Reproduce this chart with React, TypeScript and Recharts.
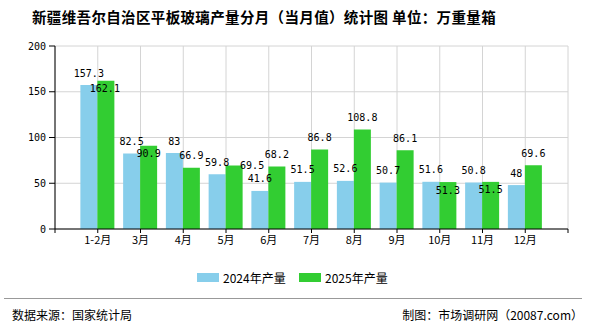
import React from 'react';
import { BarChart, Bar, XAxis, YAxis, CartesianGrid } from 'recharts';

const months = ['1-2月', '3月', '4月', '5月', '6月', '7月', '8月', '9月', '10月', '11月', '12月'];
const output2024 = [157.3, 82.5, 83, 59.8, 41.6, 51.5, 52.6, 50.7, 51.6, 50.8, 48];
const output2025 = [162.1, 90.9, 66.9, 69.5, 68.2, 86.8, 108.8, 86.1, 51.3, 51.5, 69.6];
const yTicks = [0, 50, 100, 150, 200];
const seriesNames = ['2024年产量', '2025年产量'];

// label nudges used where neighbouring value labels would collide
const labelShift2024 = months.map(() => ({ dx: 0, dy: 0 }));
const labelShift2025 = [
  { dx: -1, dy: 20 }, { dx: 0, dy: 20 }, { dx: 0, dy: 0 }, { dx: 18, dy: 12 },
  { dx: 0, dy: 0 }, { dx: 0, dy: 0 }, { dx: 0, dy: 0 }, { dx: 0, dy: 0 },
  { dx: 0, dy: 20 }, { dx: 0, dy: 20 }, { dx: 0, dy: 0 },
];

const data = months.map((m, i) => ({ pos: i + 1, month: m, a: output2024[i], b: output2025[i] }));
const xTicks = Array.from({ length: months.length + 2 }, (_, i) => i);

const MONO = "'DejaVu Sans Mono', 'Liberation Mono', monospace";
const CJK = "'Noto Sans CJK SC', 'Noto Sans', sans-serif";
const BLUE = '#87CEEB';
const GREEN = '#32CD32';

const makeLabel = (shifts: { dx: number; dy: number }[]) => (props: any) => {
  const { x, y, width, value, index } = props;
  const s = shifts[index] || { dx: 0, dy: 0 };
  const cx = Number(x) + Number(width) / 2 + s.dx;
  const cy = Number(y) - 12 + s.dy;
  return (
    <text x={cx} y={cy + 3.5} textAnchor="middle" fontFamily={MONO} fontSize={10} fill="#000">
      {value}
    </text>
  );
};

const LegendItem = ({ left, color, text }: { left: number; color: string; text: string }) => (
  <div style={{ position: 'absolute', left, top: 268, height: 18, display: 'flex', alignItems: 'center', fontFamily: CJK, fontSize: 12, color: '#000', whiteSpace: 'nowrap' }}>
    <span style={{ width: 22, height: 9, background: color, display: 'inline-block', marginRight: 4 }} />
    <span>{text}</span>
  </div>
);

export default function App() {
  return (
    <div style={{ position: 'absolute', left: 0, top: 0, width: 590, height: 330, background: '#fff', overflow: 'hidden' }}>
      <div
        style={{
          position: 'absolute', left: 32, top: 6, whiteSpace: 'nowrap', fontFamily: CJK,
          fontSize: 14.5, fontWeight: 'bold', lineHeight: '22px', color: '#000', letterSpacing: 0.35,
        }}
      >
        新疆维吾尔自治区平板玻璃产量分月（当月值）统计图 单位：万重量箱
      </div>
      <BarChart
        width={590}
        height={330}
        data={data}
        margin={{ top: 46, right: 22, bottom: 71, left: 0 }}
        barGap={0}
      >
        <CartesianGrid stroke="#d4d4d4" strokeWidth={1} />
        <XAxis
          dataKey="pos"
          type="number"
          domain={[0, months.length + 1]}
          ticks={xTicks}
          interval={0}
          allowDataOverflow
          height={30}
          tickSize={4}
          tickMargin={3}
          tickFormatter={(v: number) => months[v - 1] ?? ''}
          stroke="#000"
          tick={{ fill: '#000', fontSize: 11, fontFamily: CJK }}
        />
        <YAxis
          type="number"
          domain={[0, 200]}
          ticks={yTicks}
          width={55}
          tickSize={6}
          tickMargin={3}
          stroke="#000"
          tick={{ fill: '#000', fontSize: 10, fontFamily: MONO }}
        />
        <Bar dataKey="a" name={seriesNames[0]} fill={BLUE} barSize={17} isAnimationActive={false} label={makeLabel(labelShift2024)} />
        <Bar dataKey="b" name={seriesNames[1]} fill={GREEN} barSize={17} isAnimationActive={false} label={makeLabel(labelShift2025)} />
      </BarChart>
      <LegendItem left={197} color={BLUE} text={seriesNames[0]} />
      <LegendItem left={299} color={GREEN} text={seriesNames[1]} />
      <div style={{ position: 'absolute', left: 4, top: 298, width: 578, height: 1, background: '#999' }} />
      <div style={{ position: 'absolute', left: 12, top: 307, fontFamily: CJK, fontSize: 12, lineHeight: '16px', color: '#000', whiteSpace: 'nowrap' }}>
        数据来源：国家统计局
      </div>
      <div style={{ position: 'absolute', right: 7, top: 307, fontFamily: CJK, fontSize: 12, lineHeight: '16px', color: '#000', whiteSpace: 'nowrap' }}>
        制图：市场调研网（20087.com）
      </div>
    </div>
  );
}
